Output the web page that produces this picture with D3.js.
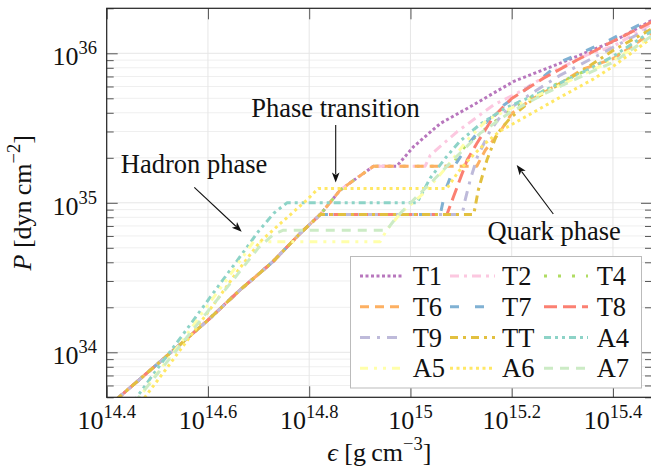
<!DOCTYPE html>
<html><head><meta charset="utf-8">
<script src="https://cdn.jsdelivr.net/npm/d3@7"></script>
<style>body{margin:0;background:#fff}svg{display:block}</style>
</head><body><svg id="c" width="651" height="468"></svg>
<script>
// ---- data: log10(epsilon [g cm^-3]) and log10(P [dyn cm^-2]) ----
const names = ["T1","T2","T4","T6","T7","T8","T9","TT","A4","A5","A6","A7"];
const colors = ["#b877bd","#fcc8e0","#b0dc62","#fdb062","#80b1d3","#fb8072","#bebada","#e2c040","#8dd3c7","#ffffaa","#ffe866","#ccebc5"];
const dashes = ["3,2.5","9,5,3,5","3,11","9,6","9,16","13,6","10,7,3,7","8,5,3,5","7,4,3,4,3,4","8,6,3,6,3,6","3,3.5","9,7"];

// shared hadronic branch of the T models
const hadT_eps = [14.418,14.425,14.464,14.504,14.551,14.600,14.663,14.728,14.782,14.822];
const hadT_P   = [33.68,33.702,33.816,33.933,34.070,34.215,34.416,34.605,34.795,34.922];
const hadTHi_eps = [14.861,14.927];
const hadTHi_P   = [35.085,35.245];

// phase transition + quark branches of the T models
const t1_eps = [14.973,15.006,15.059,15.112,15.204,15.296,15.401,15.476];
const t1_P   = [35.245,35.375,35.531,35.631,35.812,35.934,36.080,36.219];
const t2_eps = [15.029,15.039,15.092,15.164,15.217,15.282,15.349,15.401,15.476];
const t2_P   = [35.245,35.318,35.475,35.654,35.745,35.879,35.990,36.048,36.195];
const t4_eps = [15.082,15.098,15.114,15.157,15.217,15.296,15.401,15.476];
const t4_P   = [35.245,35.339,35.399,35.520,35.668,35.807,35.968,36.145];
const t6_eps = [15.131,15.148,15.177,15.200,15.237,15.296,15.341,15.401,15.476];
const t6_P   = [35.245,35.353,35.475,35.598,35.687,35.800,35.894,35.965,36.135];
const t7_eps = [15.059,15.069,15.088,15.118,15.151,15.184,15.263,15.299,15.388,15.476];
const t7_P   = [34.922,35.085,35.252,35.408,35.544,35.652,35.845,35.946,36.080,36.232];
const t8_eps = [15.072,15.085,15.112,15.131,15.164,15.200,15.263,15.329,15.401,15.476];
const t8_P   = [34.922,35.040,35.286,35.397,35.575,35.698,35.834,35.955,36.082,36.209];
const t9_eps = [15.102,15.108,15.118,15.132,15.158,15.183,15.237,15.296,15.401,15.476];
const t9_P   = [34.922,35.018,35.152,35.306,35.486,35.600,35.727,35.854,36.041,36.175];
const tt_eps = [15.125,15.134,15.151,15.171,15.197,15.237,15.335,15.401,15.476];
const tt_P   = [34.922,35.085,35.286,35.460,35.567,35.680,35.874,36.021,36.162];

// A models (full curves)
const a4_eps = [14.452,14.460,14.500,14.557,14.610,14.656,14.700,14.730,14.756,15.013,15.039,15.069,15.098,15.138,15.187,15.258,15.349,15.401,15.476];
const a4_P   = [33.66,33.702,33.890,34.148,34.394,34.605,34.810,34.930,35.000,35.000,35.165,35.299,35.413,35.526,35.633,35.740,35.888,35.981,36.148];
const a5_eps = [14.456,14.465,14.500,14.550,14.590,14.640,14.690,14.940,14.953,14.980,15.026,15.072,15.112,15.151,15.219,15.296,15.401,15.476];
const a5_P   = [33.66,33.702,33.860,34.080,34.270,34.500,34.739,34.739,34.817,34.929,35.063,35.241,35.419,35.553,35.667,35.787,35.954,36.108];
const a6_eps = [14.467,14.476,14.520,14.570,14.620,14.660,14.703,14.736,14.795,14.818,15.072,15.094,15.118,15.148,15.177,15.223,15.296,15.361,15.401,15.476];
const a6_P   = [33.66,33.702,33.900,34.130,34.360,34.550,34.740,34.840,35.018,35.096,35.096,35.205,35.299,35.399,35.480,35.567,35.707,35.827,35.914,36.101];
const a7_eps = [14.455,14.464,14.500,14.550,14.600,14.650,14.700,14.730,14.749,14.953,14.973,15.019,15.042,15.088,15.138,15.198,15.267,15.356,15.401,15.476];
const a7_P   = [33.66,33.702,33.855,34.065,34.275,34.485,34.700,34.790,34.817,34.817,34.906,35.063,35.140,35.299,35.466,35.607,35.734,35.874,35.941,36.115];

const xTickExp = [14.4,14.6,14.8,15,15.2,15.4];
const xTickLbl = ["14.4","14.6","14.8","15","15.2","15.4"];
const yTickExp = [34,35,36];
const yTickLbl = ["34","35","36"];

// ---- build series ----
const hi = (e,p)=>({e:hadT_eps.concat(hadTHi_eps,e), p:hadT_P.concat(hadTHi_P,p)});
const lo = (e,p)=>({e:hadT_eps.concat(e), p:hadT_P.concat(p)});
const series = [
  hi(t1_eps,t1_P), hi(t2_eps,t2_P), hi(t4_eps,t4_P), hi(t6_eps,t6_P),
  lo(t7_eps,t7_P), lo(t8_eps,t8_P), lo(t9_eps,t9_P), lo(tt_eps,tt_P),
  {e:a4_eps,p:a4_P},{e:a5_eps,p:a5_P},{e:a6_eps,p:a6_P},{e:a7_eps,p:a7_P}
].map((s,i)=>({name:names[i], color:colors[i], dash:dashes[i],
   pts:s.e.map((v,j)=>[Math.pow(10,v), Math.pow(10,s.p[j])])}));

// ---- layout ----
const L=106.7, R=652, T=8.3, B=397.3;
const FONT = "'Liberation Serif', 'Times New Roman', serif";
const svg = d3.select("#c");
const x = d3.scaleLog().domain([Math.pow(10,14.4), 3e15]).range([L,R]);
const y = d3.scaleLog().domain([5e33, 2e36]).range([B,T]);

const yMinor = [];
for (let n=33;n<=36;n++) for (let m=2;m<=9;m++){ const v=m*Math.pow(10,n); if (v>=5e33 && v<=2e36) yMinor.push(v); }
const yMajor = yTickExp.map(e=>Math.pow(10,e));
const xMajor = xTickExp.map(e=>Math.pow(10,e));

// grid
const grid = svg.append("g");
grid.selectAll(".gm").data(yMinor).enter().append("line")
  .attr("x1",L).attr("x2",R).attr("y1",d=>y(d)).attr("y2",d=>y(d))
  .attr("stroke","#efefef").attr("stroke-width",1);
grid.selectAll(".gM").data(yMajor).enter().append("line")
  .attr("x1",L).attr("x2",R).attr("y1",d=>y(d)).attr("y2",d=>y(d))
  .attr("stroke","#e6e6e6").attr("stroke-width",1);
grid.selectAll(".gx").data(xMajor).enter().append("line")
  .attr("y1",T).attr("y2",B).attr("x1",d=>x(d)).attr("x2",d=>x(d))
  .attr("stroke","#e6e6e6").attr("stroke-width",1);

// curves
svg.append("clipPath").attr("id","clip").append("rect").attr("x",L).attr("y",T).attr("width",R-L).attr("height",B-T);
const line = d3.line().x(d=>x(d[0])).y(d=>y(d[1]));
const cg = svg.append("g").attr("clip-path","url(#clip)");
series.forEach(s=>{
  cg.append("path").attr("d",line(s.pts)).attr("fill","none")
    .attr("stroke",s.color).attr("stroke-width",3).attr("stroke-dasharray",s.dash)
    .attr("stroke-linejoin","round");
});

// axes (ticks inward)
const tickCol = "#555";
function styleAxis(g){ g.select(".domain").remove(); g.selectAll("line").attr("stroke",tickCol); g.selectAll("text").remove(); }
svg.append("g").attr("transform",`translate(0,${B})`).call(d3.axisBottom(x).tickValues(xMajor).tickSizeInner(-11).tickSizeOuter(0)).call(styleAxis);
svg.append("g").attr("transform",`translate(0,${T})`).call(d3.axisTop(x).tickValues(xMajor).tickSizeInner(-11).tickSizeOuter(0)).call(styleAxis);
svg.append("g").attr("transform",`translate(${L},0)`).call(d3.axisLeft(y).tickValues(yMajor).tickSizeInner(-11).tickSizeOuter(0)).call(styleAxis);
svg.append("g").attr("transform",`translate(${L},0)`).call(d3.axisLeft(y).tickValues(yMinor).tickSizeInner(-7).tickSizeOuter(0)).call(styleAxis);
svg.append("g").attr("transform",`translate(${R},0)`).call(d3.axisRight(y).tickValues(yMajor).tickSizeInner(-11).tickSizeOuter(0)).call(styleAxis);
svg.append("g").attr("transform",`translate(${R},0)`).call(d3.axisRight(y).tickValues(yMinor).tickSizeInner(-7).tickSizeOuter(0)).call(styleAxis);
svg.append("rect").attr("x",L).attr("y",T).attr("width",R-L).attr("height",B-T)
  .attr("fill","none").attr("stroke","#222").attr("stroke-width",1.2);

// tick labels
const lab = svg.append("g").attr("font-family",FONT).attr("fill","#111");
xMajor.forEach((v,i)=>{
  const t = lab.append("text").attr("x",x(v)).attr("y",B+32).attr("text-anchor","middle").attr("font-size",26);
  t.append("tspan").text("10");
  t.append("tspan").attr("dy",-11).attr("font-size",18.5).text(xTickLbl[i]);
});
yMajor.forEach((v,i)=>{
  const t = lab.append("text").attr("x",97).attr("y",y(v)+12).attr("text-anchor","end").attr("font-size",26);
  t.append("tspan").text("10");
  t.append("tspan").attr("dy",-11).attr("font-size",18.5).text(yTickLbl[i]);
});

// axis titles
const xt = lab.append("text").attr("x",(L+R)/2).attr("y",461).attr("text-anchor","middle").attr("font-size",26);
xt.append("tspan").attr("font-style","italic").text("ϵ");
xt.append("tspan").text(" [g\u2009cm");
xt.append("tspan").attr("dy",-11).attr("font-size",18.5).text("−3");
xt.append("tspan").attr("dy",11).text("]");
const yt = lab.append("text").attr("transform",`translate(31,${(T+B)/2}) rotate(-90)`).attr("text-anchor","middle").attr("font-size",26);
yt.append("tspan").attr("font-style","italic").text("P");
yt.append("tspan").text(" [dyn\u2009cm");
yt.append("tspan").attr("dy",-11).attr("font-size",18.5).text("−2");
yt.append("tspan").attr("dy",11).text("]");

// annotations
function arrow(x1,y1,x2,y2){
  const a = Math.atan2(y2-y1,x2-x1), len=10, w=3.8;
  const bx = x2-len*Math.cos(a), by = y2-len*Math.sin(a);
  svg.append("line").attr("x1",x1).attr("y1",y1).attr("x2",bx+2*Math.cos(a)).attr("y2",by+2*Math.sin(a))
    .attr("stroke","#111").attr("stroke-width",1.1);
  const px=-Math.sin(a), py=Math.cos(a);
  const nx = x2-len*0.75*Math.cos(a), ny = y2-len*0.75*Math.sin(a);
  svg.append("path").attr("d",`M${x2},${y2} L${bx+w*px},${by+w*py} L${nx},${ny} L${bx-w*px},${by-w*py} Z`).attr("fill","#111");
}
lab.append("text").attr("x",335.5).attr("y",116.7).attr("text-anchor","middle").attr("font-size",26.5).text("Phase transition");
arrow(335.7,125,335.7,182.5);
lab.append("text").attr("x",194).attr("y",173.3).attr("text-anchor","middle").attr("font-size",26.5).text("Hadron phase");
arrow(194.3,187.3,241.7,231.7);
lab.append("text").attr("x",554.2).attr("y",240).attr("text-anchor","middle").attr("font-size",26.5).text("Quark phase");
arrow(553.3,214,516.7,165);

// legend
const lg = svg.append("g");
lg.append("rect").attr("x",350.5).attr("y",256.5).attr("width",291).attr("height",131.5)
  .attr("fill","#fff").attr("stroke","#bbb").attr("stroke-width",1);
const colLine = [[360,403],[450,495],[544,588]], colText=[412.7,502,596.7], rowY=[276,306.7,337.5,368.3];
series.forEach((s,i)=>{
  const r=Math.floor(i/3), c=i%3;
  lg.append("line").attr("x1",colLine[c][0]).attr("x2",colLine[c][1]).attr("y1",rowY[r]).attr("y2",rowY[r])
    .attr("stroke",s.color).attr("stroke-width",3).attr("stroke-dasharray",s.dash);
  lg.append("text").attr("x",colText[c]).attr("y",rowY[r]+9).attr("font-family",FONT).attr("font-size",26.5).attr("fill","#111").text(s.name);
});
</script></body></html>
